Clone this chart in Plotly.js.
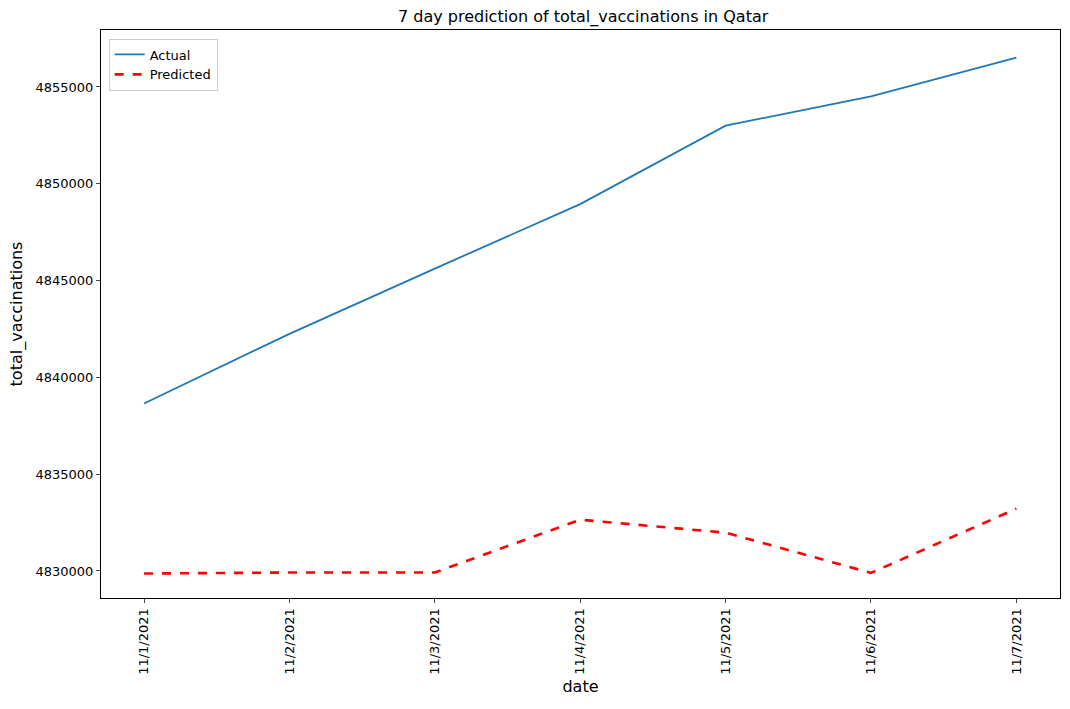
<!DOCTYPE html>
<html><head><script src="https://cdn.plot.ly/plotly-3.0.1.min.js"></script>
<style>body{margin:0}</style></head><body>
<div id="c" style="width:1070px;height:709px"></div>
<script>
const dates=["11/1/2021","11/2/2021","11/3/2021","11/4/2021","11/5/2021","11/6/2021","11/7/2021"];
const actual=[4838650,4842250,4845620,4848950,4853000,4854520,4856520];
const predicted=[4829870,4829920,4829920,4832650,4831980,4829900,4833220];
const idx=dates.map((d,i)=>i);
Plotly.newPlot('c',[
{x:idx,y:actual,mode:'lines',name:'Actual',line:{color:'#1f77b4',width:1.8}},
{x:idx,y:predicted,mode:'lines',name:'Predicted',line:{color:'red',width:2.6,dash:'dash'}}
],{
width:1070,height:709,margin:{l:101,r:10,t:30,b:111},
font:{family:'DejaVu Sans',size:13,color:'#000'},
title:{text:'7 day prediction of total_vaccinations in Qatar',x:0.545,y:0.985,yanchor:'top',font:{size:16}},
xaxis:{range:[-0.296,6.3],tickvals:idx,ticktext:dates,tickangle:-90,showgrid:false,zeroline:false,showline:true,mirror:true,linecolor:'#000',ticks:'outside',ticklen:4,title:{text:'date',standoff:6}},
yaxis:{range:[4828605,4857943],tickvals:[4830000,4835000,4840000,4845000,4850000,4855000],tickformat:'d',showgrid:false,zeroline:false,showline:true,mirror:true,linecolor:'#000',ticks:'outside',ticklen:4,title:{text:'total_vaccinations',standoff:8}},
legend:{x:0.008,y:0.985,xanchor:'left',yanchor:'top',bordercolor:'#ccc',borderwidth:1,bgcolor:'rgba(255,255,255,0.8)'},
showlegend:true
},{displayModeBar:false});
</script></body></html>
